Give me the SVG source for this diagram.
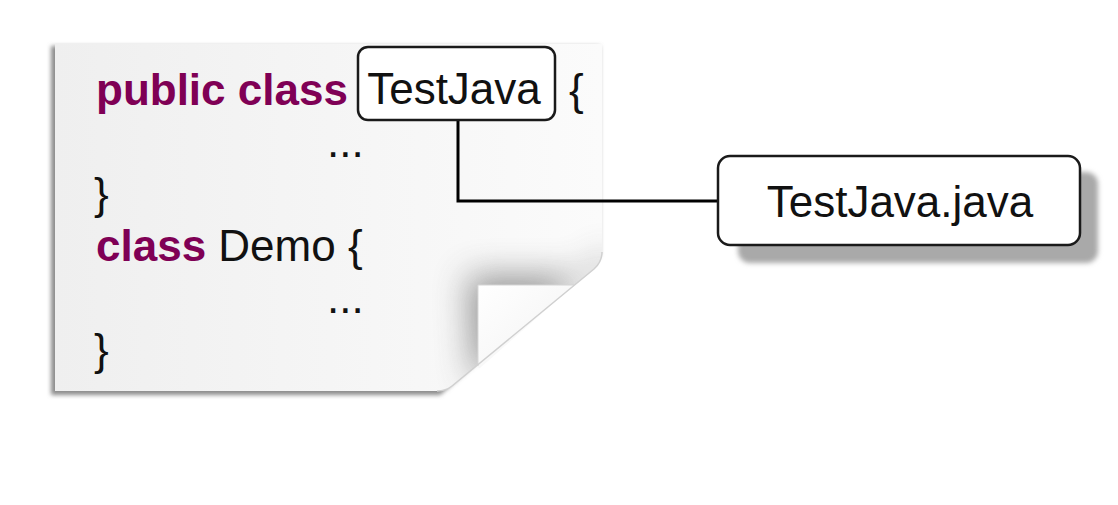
<svg xmlns="http://www.w3.org/2000/svg" width="1118" height="505" viewBox="0 0 1118 505">
  <style>
    .code { font-family: "Liberation Sans", Arial, sans-serif; font-size: 44px; fill: #111; }
    .kw { font-weight: bold; fill: #7f0055; }
    .box { fill: #ffffff; stroke: #1a1a1a; stroke-width: 2.5; }
    .lbl { font-family: "Liberation Sans", Arial, sans-serif; font-size: 44px; fill: #111; }
    .conn { fill: none; stroke: #000; stroke-width: 3; }
  </style>
  <defs>
    <linearGradient id="paperFill" x1="0" y1="0" x2="1" y2="0">
      <stop offset="0" stop-color="#efefef"/>
      <stop offset="1" stop-color="#fbfbfb"/>
    </linearGradient>
    <linearGradient id="flapFill" x1="0" y1="0" x2="1" y2="1">
      <stop offset="0" stop-color="#ffffff"/>
      <stop offset="1" stop-color="#f2f2f2"/>
    </linearGradient>
    <filter id="blur2" x="-10%" y="-10%" width="120%" height="120%">
      <feGaussianBlur stdDeviation="2"/>
    </filter>
    <filter id="blurCurl" x="-50%" y="-50%" width="200%" height="200%">
      <feGaussianBlur stdDeviation="17"/>
    </filter>
    <filter id="blurSh" x="-10%" y="-10%" width="120%" height="130%">
      <feGaussianBlur stdDeviation="2.5"/>
    </filter>
    <clipPath id="paperClip">
      <path d="M55,44 H602 V252 Q602,262 594,269 L452,386 Q446,391 437,391 H55 Z"/>
    </clipPath>
  </defs>

  <g id="paper">
    <path d="M51,46 H600 V255 L440,395 H51 Z" fill="#8c8c8c" filter="url(#blur2)"/>
    <path d="M55,44 H602 V252 Q602,262 594,269 L452,386 Q446,391 437,391 H55 Z" fill="url(#paperFill)"/>
    <g clip-path="url(#paperClip)">
      <path d="M468,276 H610 V250 L474,385 Z" fill="#8a8a8a" filter="url(#blurCurl)" opacity="0.9"/>
    </g>
    <path d="M478,285 H574 L480,368 Q478,369 478,366 Z" fill="url(#flapFill)"/>
    <path d="M478,285 H574" stroke="#d4d4d4" stroke-width="1" fill="none"/>
    <path d="M478,285 V366" stroke="#d8d8d8" stroke-width="1" fill="none"/>
    <path d="M602,252 Q602,262 594,269 L452,386 Q446,391 437,391" stroke="#d0d0d0" stroke-width="1.5" fill="none"/>
  </g>

  <g id="code">
    <text class="code kw" x="96" y="105">public class</text>
    <text class="code" x="569" y="105">{</text>
    <text class="code" x="327" y="157">...</text>
    <text class="code" x="94" y="209">}</text>
    <text class="code" x="96" y="261"><tspan class="kw">class</tspan> Demo {</text>
    <text class="code" x="327" y="313">...</text>
    <text class="code" x="94" y="365">}</text>
  </g>

  <g id="connectors">
    <path class="conn" d="M458,120 V201 H718"/>
  </g>

  <g id="node-testjava">
    <rect class="box" x="358" y="47" width="197" height="73" rx="10" ry="10"/>
    <text class="lbl" x="454" y="104" text-anchor="middle">TestJava</text>
  </g>

  <g id="node-testjava-file">
    <rect x="738" y="172" width="360" height="91" rx="12" ry="12" fill="#a9a9a9" filter="url(#blurSh)"/>
    <rect class="box" x="718" y="156" width="362" height="89" rx="12" ry="12"/>
    <text class="lbl" x="900" y="217" text-anchor="middle">TestJava.java</text>
  </g>
</svg>
